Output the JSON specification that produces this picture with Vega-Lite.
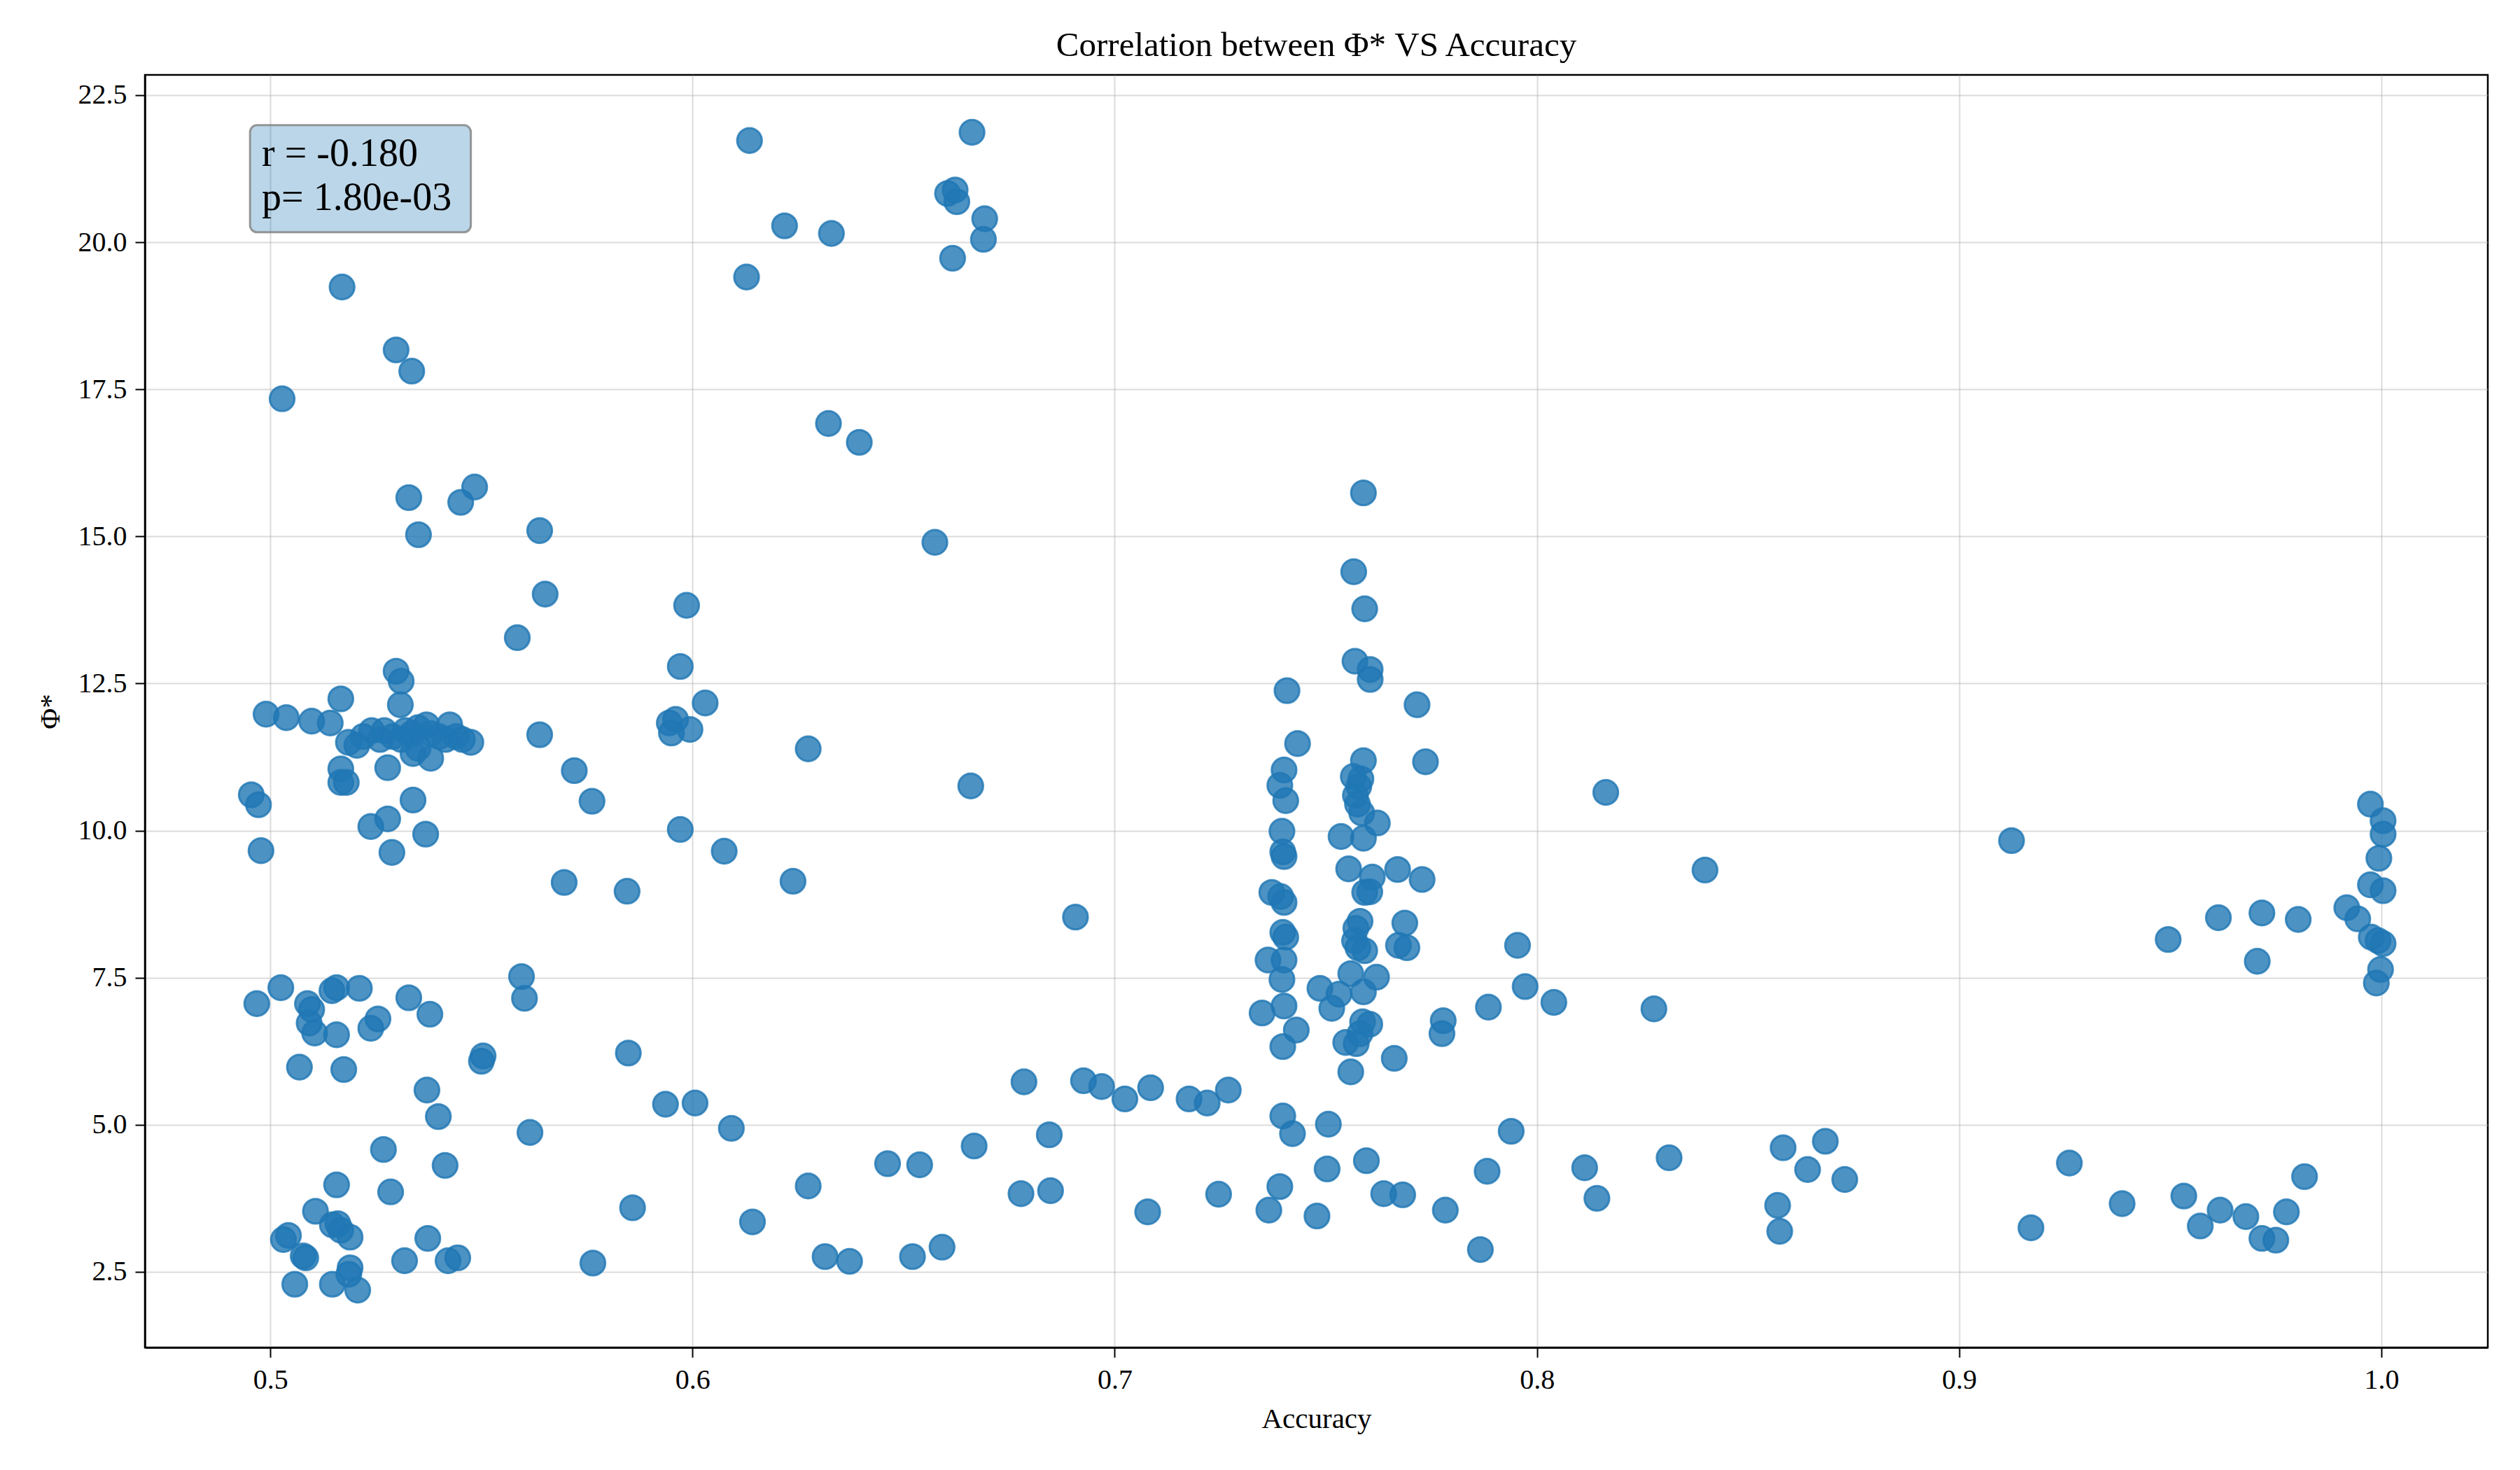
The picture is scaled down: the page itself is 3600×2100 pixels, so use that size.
{
  "$schema": "https://vega.github.io/schema/vega-lite/v6.json",
  "width": 3347,
  "height": 1818,
  "autosize": "none",
  "padding": {"left": 207, "top": 107, "right": 46, "bottom": 175},
  "background": "white",
  "title": {"text": "Correlation between Φ* VS Accuracy", "font": "Liberation Serif", "fontSize": 49, "fontWeight": "normal", "color": "black", "anchor": "middle", "frame": "group", "baseline": "alphabetic", "offset": -22},
  "config": {
    "view": {"stroke": "black", "strokeWidth": 2.5},
    "axis": {
      "labelFont": "Liberation Serif", "labelFontSize": 40, "labelColor": "black",
      "titleFont": "Liberation Serif", "titleFontSize": 41, "titleFontWeight": "normal", "titleColor": "black",
      "tickColor": "black", "tickWidth": 2, "tickSize": 14,
      "domainColor": "black", "domainWidth": 2.5,
      "grid": true, "gridColor": "#b0b0b0", "gridOpacity": 0.45, "gridWidth": 2,
      "zindex": 1
    }
  },
  "datasets": {
    "pts": [
      {"acc":0.517,"phi":19.24},{"acc":0.5298,"phi":18.17},{"acc":0.5335,"phi":17.81},{"acc":0.5028,"phi":17.34},
      {"acc":0.5328,"phi":15.66},{"acc":0.5484,"phi":15.84},{"acc":0.5451,"phi":15.58},{"acc":0.5351,"phi":15.03},
      {"acc":0.5638,"phi":15.10},{"acc":0.5651,"phi":14.02},{"acc":0.5585,"phi":13.28},
      {"acc":0.5298,"phi":12.71},{"acc":0.531,"phi":12.54},{"acc":0.5167,"phi":12.24},{"acc":0.5308,"phi":12.14},
      {"acc":0.499,"phi":11.98},{"acc":0.5038,"phi":11.92},{"acc":0.5098,"phi":11.86},{"acc":0.5142,"phi":11.83},
      {"acc":0.5185,"phi":11.5},{"acc":0.5205,"phi":11.45},{"acc":0.522,"phi":11.6},{"acc":0.524,"phi":11.7},
      {"acc":0.526,"phi":11.55},{"acc":0.527,"phi":11.7},{"acc":0.529,"phi":11.6},{"acc":0.531,"phi":11.55},
      {"acc":0.532,"phi":11.7},{"acc":0.5335,"phi":11.65},{"acc":0.535,"phi":11.75},{"acc":0.537,"phi":11.8},
      {"acc":0.538,"phi":11.65},{"acc":0.54,"phi":11.6},{"acc":0.5415,"phi":11.55},{"acc":0.5425,"phi":11.8},
      {"acc":0.544,"phi":11.6},{"acc":0.5455,"phi":11.55},{"acc":0.5475,"phi":11.5},{"acc":0.535,"phi":11.4},
      {"acc":0.5638,"phi":11.63},{"acc":0.5167,"phi":11.05},{"acc":0.5167,"phi":10.82},{"acc":0.518,"phi":10.82},
      {"acc":0.5278,"phi":11.07},{"acc":0.5338,"phi":11.31},{"acc":0.538,"phi":11.23},{"acc":0.572,"phi":11.02},
      {"acc":0.5762,"phi":10.5},{"acc":0.4955,"phi":10.61},{"acc":0.4972,"phi":10.44},{"acc":0.5338,"phi":10.52},
      {"acc":0.5238,"phi":10.07},{"acc":0.5278,"phi":10.2},{"acc":0.5368,"phi":9.94},{"acc":0.4978,"phi":9.66},
      {"acc":0.5288,"phi":9.63},{"acc":0.5696,"phi":9.12},{"acc":0.5845,"phi":8.97},
      {"acc":0.4968,"phi":7.06},{"acc":0.5025,"phi":7.33},{"acc":0.5088,"phi":7.06},{"acc":0.5098,"phi":6.96},
      {"acc":0.5092,"phi":6.73},{"acc":0.5105,"phi":6.56},{"acc":0.5146,"phi":7.28},{"acc":0.5157,"phi":7.33},
      {"acc":0.5211,"phi":7.32},{"acc":0.5157,"phi":6.53},{"acc":0.5255,"phi":6.8},{"acc":0.5238,"phi":6.64},
      {"acc":0.5328,"phi":7.16},{"acc":0.5378,"phi":6.88},{"acc":0.5595,"phi":7.52},{"acc":0.5602,"phi":7.15},
      {"acc":0.5069,"phi":5.98},{"acc":0.5174,"phi":5.94},{"acc":0.5504,"phi":6.17},{"acc":0.55,"phi":6.08},
      {"acc":0.5848,"phi":6.22},{"acc":0.5371,"phi":5.59},{"acc":0.5398,"phi":5.14},{"acc":0.5615,"phi":4.87},
      {"acc":0.5268,"phi":4.58},{"acc":0.5414,"phi":4.31},{"acc":0.5157,"phi":3.98},{"acc":0.5285,"phi":3.86},
      {"acc":0.5107,"phi":3.53},{"acc":0.5858,"phi":3.59},{"acc":0.5031,"phi":3.05},{"acc":0.5043,"phi":3.12},
      {"acc":0.5147,"phi":3.3},{"acc":0.516,"phi":3.32},{"acc":0.5167,"phi":3.21},{"acc":0.5189,"phi":3.09},
      {"acc":0.5078,"phi":2.77},{"acc":0.5084,"phi":2.74},{"acc":0.5189,"phi":2.57},{"acc":0.5186,"phi":2.46},
      {"acc":0.5058,"phi":2.29},{"acc":0.5147,"phi":2.29},{"acc":0.5207,"phi":2.19},{"acc":0.5318,"phi":2.69},
      {"acc":0.5373,"phi":3.07},{"acc":0.5421,"phi":2.69},{"acc":0.5444,"phi":2.74},{"acc":0.5764,"phi":2.65},
      {"acc":0.6135,"phi":21.73},{"acc":0.6662,"phi":21.87},{"acc":0.6218,"phi":20.28},{"acc":0.6329,"phi":20.15},
      {"acc":0.6128,"phi":19.41},{"acc":0.6604,"phi":20.83},{"acc":0.6622,"phi":20.89},{"acc":0.6626,"phi":20.69},
      {"acc":0.6692,"phi":20.4},{"acc":0.6689,"phi":20.05},{"acc":0.6616,"phi":19.73},{"acc":0.6322,"phi":16.92},
      {"acc":0.6395,"phi":16.6},{"acc":0.6574,"phi":14.9},{"acc":0.5986,"phi":13.83},{"acc":0.5971,"phi":12.79},
      {"acc":0.603,"phi":12.17},{"acc":0.5945,"phi":11.83},{"acc":0.596,"phi":11.89},{"acc":0.595,"phi":11.66},
      {"acc":0.5994,"phi":11.72},{"acc":0.6274,"phi":11.39},{"acc":0.6659,"phi":10.76},{"acc":0.5971,"phi":10.02},
      {"acc":0.6075,"phi":9.65},{"acc":0.6238,"phi":9.14},{"acc":0.6907,"phi":8.53},
      {"acc":0.5936,"phi":5.35},{"acc":0.6006,"phi":5.37},{"acc":0.6092,"phi":4.94},{"acc":0.6785,"phi":5.73},
      {"acc":0.6926,"phi":5.75},{"acc":0.6969,"phi":5.65},{"acc":0.7024,"phi":5.44},{"acc":0.7085,"phi":5.63},
      {"acc":0.7176,"phi":5.44},{"acc":0.7219,"phi":5.37},{"acc":0.7269,"phi":5.59},{"acc":0.6845,"phi":4.83},
      {"acc":0.6667,"phi":4.64},{"acc":0.6462,"phi":4.34},{"acc":0.6538,"phi":4.32},{"acc":0.6274,"phi":3.96},
      {"acc":0.6778,"phi":3.83},{"acc":0.6848,"phi":3.88},{"acc":0.7078,"phi":3.52},{"acc":0.7246,"phi":3.82},
      {"acc":0.6142,"phi":3.35},{"acc":0.6314,"phi":2.76},{"acc":0.6372,"phi":2.68},{"acc":0.6521,"phi":2.76},
      {"acc":0.6591,"phi":2.92},
      {"acc":0.7589,"phi":15.74},{"acc":0.7566,"phi":14.4},{"acc":0.7592,"phi":13.77},{"acc":0.7569,"phi":12.88},
      {"acc":0.7605,"phi":12.74},{"acc":0.7605,"phi":12.57},{"acc":0.7408,"phi":12.38},{"acc":0.7716,"phi":12.14},
      {"acc":0.7433,"phi":11.48},{"acc":0.7736,"phi":11.17},{"acc":0.7589,"phi":11.19},{"acc":0.7401,"phi":11.03},
      {"acc":0.7391,"phi":10.77},{"acc":0.7405,"phi":10.51},{"acc":0.7565,"phi":10.92},{"acc":0.7583,"phi":10.88},
      {"acc":0.7578,"phi":10.75},{"acc":0.757,"phi":10.6},{"acc":0.7575,"phi":10.45},{"acc":0.7585,"phi":10.3},
      {"acc":0.7622,"phi":10.13},{"acc":0.7396,"phi":9.99},{"acc":0.7398,"phi":9.64},{"acc":0.7401,"phi":9.56},
      {"acc":0.7536,"phi":9.9},{"acc":0.7589,"phi":9.87},
      {"acc":0.7554,"phi":9.35},{"acc":0.761,"phi":9.21},{"acc":0.7604,"phi":8.96},{"acc":0.7592,"phi":8.95},
      {"acc":0.767,"phi":9.34},{"acc":0.7728,"phi":9.17},{"acc":0.7372,"phi":8.95},{"acc":0.7393,"phi":8.88},
      {"acc":0.7401,"phi":8.78},{"acc":0.7398,"phi":8.27},{"acc":0.7405,"phi":8.19},{"acc":0.7581,"phi":8.46},
      {"acc":0.7571,"phi":8.34},{"acc":0.7568,"phi":8.13},{"acc":0.7592,"phi":7.96},{"acc":0.7576,"phi":8.01},
      {"acc":0.7687,"phi":8.43},{"acc":0.7672,"phi":8.05},{"acc":0.7692,"phi":8.01},{"acc":0.7363,"phi":7.8},
      {"acc":0.7401,"phi":7.8},{"acc":0.7396,"phi":7.47},{"acc":0.7559,"phi":7.57},{"acc":0.762,"phi":7.51},
      {"acc":0.7589,"phi":7.26},{"acc":0.7486,"phi":7.32},{"acc":0.7531,"phi":7.22},{"acc":0.7514,"phi":6.98},
      {"acc":0.7349,"phi":6.9},{"acc":0.7401,"phi":7.02},{"acc":0.743,"phi":6.61},{"acc":0.7398,"phi":6.33},
      {"acc":0.7587,"phi":6.75},{"acc":0.7604,"phi":6.71},{"acc":0.7581,"phi":6.55},{"acc":0.7547,"phi":6.4},
      {"acc":0.7572,"phi":6.38},{"acc":0.7559,"phi":5.9},{"acc":0.7662,"phi":6.13},{"acc":0.7778,"phi":6.77},
      {"acc":0.7775,"phi":6.55},{"acc":0.7398,"phi":5.15},{"acc":0.7421,"phi":4.85},{"acc":0.7506,"phi":5.01},
      {"acc":0.7503,"phi":4.25},{"acc":0.7596,"phi":4.39},{"acc":0.7391,"phi":3.95},{"acc":0.7365,"phi":3.55},
      {"acc":0.7479,"phi":3.45},{"acc":0.7637,"phi":3.83},{"acc":0.7682,"phi":3.81},{"acc":0.7783,"phi":3.55},
      {"acc":0.7954,"phi":8.05},{"acc":0.7972,"phi":7.35},{"acc":0.7885,"phi":7.0},{"acc":0.804,"phi":7.08},
      {"acc":0.8277,"phi":6.97},{"acc":0.7939,"phi":4.89},{"acc":0.7882,"phi":4.21},{"acc":0.7866,"phi":2.88},
      {"acc":0.8113,"phi":4.27},{"acc":0.8142,"phi":3.75},{"acc":0.8313,"phi":4.44},{"acc":0.8583,"phi":4.61},
      {"acc":0.8683,"phi":4.72},{"acc":0.8641,"phi":4.24},{"acc":0.8729,"phi":4.07},{"acc":0.857,"phi":3.63},
      {"acc":0.8575,"phi":3.19},{"acc":0.917,"phi":3.25},{"acc":0.8163,"phi":10.65},{"acc":0.8398,"phi":9.33},
      {"acc":0.9124,"phi":9.83},{"acc":0.9495,"phi":8.15},{"acc":0.9614,"phi":8.52},{"acc":0.9717,"phi":8.6},
      {"acc":0.9706,"phi":7.78},{"acc":0.9803,"phi":8.49},{"acc":0.9918,"phi":8.69},{"acc":0.9944,"phi":8.5},
      {"acc":0.9974,"phi":10.45},{"acc":1.0004,"phi":10.17},{"acc":1.0004,"phi":9.94},{"acc":0.9994,"phi":9.53},
      {"acc":0.9974,"phi":9.08},{"acc":1.0004,"phi":8.98},{"acc":0.9976,"phi":8.19},{"acc":0.9992,"phi":8.13},
      {"acc":1.0004,"phi":8.08},{"acc":0.9998,"phi":7.64},{"acc":0.9988,"phi":7.41},
      {"acc":0.9261,"phi":4.35},{"acc":0.9386,"phi":3.66},{"acc":0.9532,"phi":3.79},{"acc":0.9618,"phi":3.55},
      {"acc":0.9571,"phi":3.28},{"acc":0.9679,"phi":3.44},{"acc":0.9775,"phi":3.52},{"acc":0.9818,"phi":4.12},
      {"acc":0.9717,"phi":3.07},{"acc":0.975,"phi":3.04}
    ],
    "box": [{"acc":0.4952,"acc2":0.5475,"phi":21.99,"phi2":20.17}],
    "stats": [{"acc":0.498,"phi":21.3,"label":"r = -0.180"},{"acc":0.498,"phi":20.55,"label":"p= 1.80e-03"}]
  },
  "encoding": {
    "x": {"field": "acc", "type": "quantitative", "scale": {"domain": [0.4703, 1.0252], "nice": false, "zero": false},
          "axis": {"title": "Accuracy", "values": [0.5,0.6,0.7,0.8,0.9,1.0], "format": ".1f", "labelPadding": 12, "titlePadding": 16}},
    "y": {"field": "phi", "type": "quantitative", "scale": {"domain": [1.215, 22.845], "nice": false, "zero": false},
          "axis": {"title": "Φ*", "values": [2.5,5,7.5,10,12.5,15,17.5,20,22.5], "format": ".1f", "labelPadding": 12, "titlePadding": 18}}
  },
  "layer": [
    {
      "data": {"name": "pts"},
      "mark": {"type": "point", "shape": "circle", "filled": true, "size": 1250, "color": "#1f77b4", "fillOpacity": 0.8, "stroke": "#1f77b4", "strokeOpacity": 0.8, "strokeWidth": 3, "opacity": 1}
    },
    {
      "data": {"name": "box"},
      "mark": {"type": "rect", "fill": "#1f77b4", "fillOpacity": 0.3, "stroke": "#808080", "strokeOpacity": 0.8, "strokeWidth": 3, "cornerRadius": 10},
      "encoding": {"x2": {"field": "acc2"}, "y2": {"field": "phi2"}}
    },
    {
      "data": {"name": "stats"},
      "mark": {"type": "text", "align": "left", "baseline": "alphabetic", "font": "Liberation Serif", "fontSize": 56, "color": "black"},
      "encoding": {"text": {"field": "label", "type": "nominal"}}
    }
  ]
}
